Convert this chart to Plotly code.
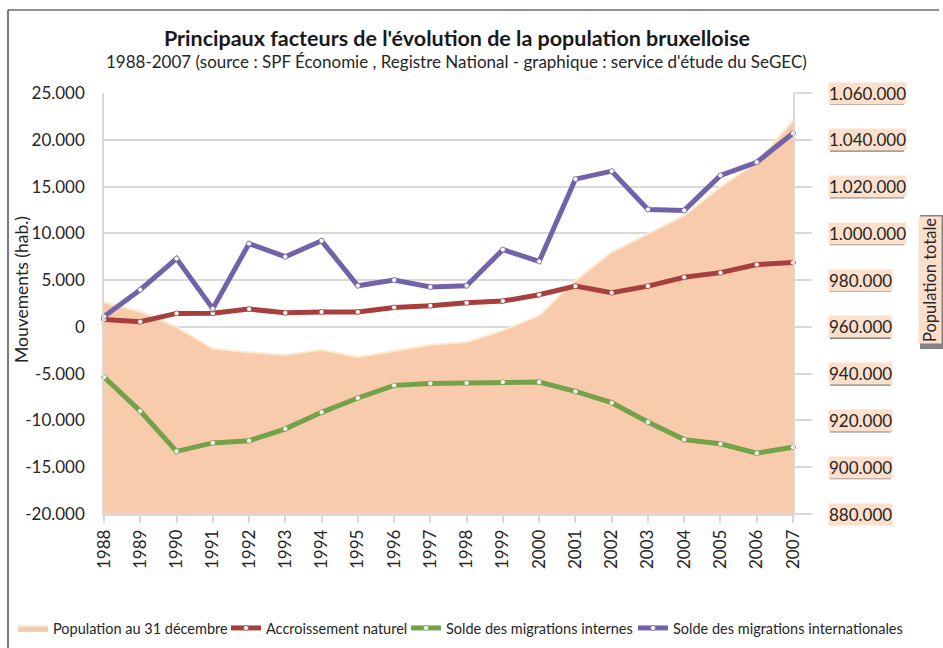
import plotly.graph_objects as go

years = list(range(1988, 2008))
population = [970600, 966600, 960000, 950700, 949200, 948100, 950200, 947100, 949700, 952400,
              953500, 958500, 964900, 979900, 992000, 999800, 1007700, 1019800, 1030500, 1048300]
naturel = [800, 550, 1440, 1470, 1900, 1500, 1600, 1600, 2080, 2260,
           2580, 2760, 3440, 4360, 3650, 4360, 5300, 5800, 6660, 6870]
internes = [-5360, -9000, -13300, -12400, -12160, -10900, -9130, -7600, -6250, -6040,
            -6000, -5900, -5900, -6900, -8100, -10170, -12050, -12500, -13500, -12850]
internationales = [1100, 3970, 7300, 1950, 8900, 7500, 9200, 4400, 5000, 4270,
                   4400, 8260, 7000, 15800, 16650, 12550, 12450, 16200, 17600, 20700]

left_ticks = [-20000, -15000, -10000, -5000, 0, 5000, 10000, 15000, 20000, 25000]
right_ticks = [880000, 900000, 920000, 940000, 960000, 980000, 1000000, 1020000, 1040000, 1060000]

title = "Principaux facteurs de l'évolution de la population bruxelloise"
subtitle = "1988-2007 (source : SPF Économie , Registre National - graphique : service d'étude du SeGEC)"
names = ["Population au 31 décembre", "Accroissement naturel",
         "Solde des migrations internes", "Solde des migrations internationales"]


def fmt(v):
    return f"{v:,}".replace(",", ".")


FONT = "Lato"
TXT = "#262626"
PEACH = "rgb(248,203,172)"
LABELBG = "rgb(252,224,204)"
SHADOW = "rgba(100,100,100,0.8)"
GRID = "rgb(217,217,217)"

# plot-area geometry (pixels)
L, R, T, B = 104, 150, 93, 134
PW, PH = 943 - L - R, 648 - T - B


def px_x(p):
    return (p - L) / PW


def px_y(p):
    return (648 - B - p) / PH


fig = go.Figure()

fig.add_trace(go.Scatter(
    x=years, y=population, name=names[0], yaxis="y", mode="lines",
    fill="tozeroy", fillcolor=PEACH, legend="legend", showlegend=True,
    line=dict(color="rgb(253,236,212)", width=2),
))

series = [(naturel, names[1], "#A7403C", "legend2"),
          (internes, names[2], "#74A24A", "legend3"),
          (internationales, names[3], "#7262AA", "legend4")]
for vals, nm, col, lg in series:
    fig.add_trace(go.Scatter(
        x=years, y=vals, name=nm, yaxis="y2", mode="lines+markers", legend=lg, showlegend=True,
        line=dict(color=col, width=5),
        marker=dict(size=5, color="white", line=dict(color=col, width=0.8)),
        cliponaxis=False,
    ))

annotations = []
shapes = []
LBL_X = px_x(828)
for v in right_ticks:
    s = fmt(v)
    w = sum(9.1 if c.isdigit() else 4.2 for c in s) + 2
    shapes.append(dict(type="rect", xref="paper", xsizemode="pixel", xanchor=LBL_X, x0=2, x1=w + 2,
                       yref="y", ysizemode="pixel", yanchor=v, y0=-12, y1=9,
                       fillcolor=SHADOW, line=dict(width=0), layer="above"))
    annotations.append(dict(xref="paper", yref="y", x=LBL_X, y=v, xanchor="left", yanchor="middle",
                            text=s, showarrow=False,
                            font=dict(family=FONT, size=17, color=TXT),
                            bgcolor=LABELBG, borderpad=0))

# right axis title
shapes.append(dict(type="rect", xref="paper", xsizemode="pixel", xanchor=px_x(930), x0=-10, x1=14,
                   yref="paper", ysizemode="pixel", yanchor=px_y(280), y0=-69, y1=65,
                   fillcolor=SHADOW, line=dict(width=0), layer="above"))
annotations.append(dict(xref="paper", yref="paper", x=px_x(930), y=px_y(280), xanchor="center",
                        yanchor="middle", text="Population totale", textangle=-90, showarrow=False,
                        font=dict(family=FONT, size=16.5, color=TXT), bgcolor=LABELBG, borderpad=1))

# left axis title
annotations.append(dict(xref="paper", yref="paper", x=px_x(21), y=px_y(290), xanchor="center",
                        yanchor="middle", text="Mouvements (hab.)", textangle=-90, showarrow=False,
                        font=dict(family=FONT, size=17.5, color=TXT)))
# subtitle
annotations.append(dict(xref="paper", yref="paper", x=px_x(456), y=px_y(62), xanchor="center",
                        yanchor="middle", text=subtitle, showarrow=False,
                        font=dict(family=FONT, size=17, color=TXT)))

# outer frame (left and top)
shapes += [
    dict(type="line", xref="paper", yref="paper", x0=px_x(8), x1=px_x(8),
         y0=px_y(10), y1=px_y(660), line=dict(color="#222", width=1.2)),
    dict(type="line", xref="paper", yref="paper", x0=px_x(8), x1=px_x(939),
         y0=px_y(10), y1=px_y(10), line=dict(color="#222", width=1.2)),
]

leg_font = dict(family=FONT, size=14.5, color=TXT)
leg_common = dict(orientation="h", xanchor="left", y=px_y(628), yanchor="middle",
                  font=leg_font, itemwidth=30, bgcolor="rgba(0,0,0,0)", borderwidth=0,
                  visible=True)

fig.update_layout(
    width=943, height=648,
    showlegend=True,
    margin=dict(l=L, r=R, t=T, b=B, autoexpand=False),
    paper_bgcolor="white", plot_bgcolor="white",
    font=dict(family=FONT, color=TXT),
    title=dict(text=title, x=457 / 943, xanchor="center", y=1 - 38 / 648, yanchor="middle",
               font=dict(family=FONT, size=21.5, color="#1a1a1a", weight="bold")),
    xaxis=dict(range=[1988, 2007], tickvals=years, ticktext=[str(y) for y in years],
               tickangle=-90, tickfont=dict(family=FONT, size=17, color=TXT),
               showgrid=False, zeroline=False, showline=True, linecolor=GRID, linewidth=1.5,
               ticks="outside", ticklen=7, tickcolor=GRID, tickwidth=1.5),
    yaxis=dict(range=[880000, 1060000], side="right", tickvals=right_ticks, showticklabels=False,
               showgrid=True, gridcolor=GRID, gridwidth=2, zeroline=False,
               showline=True, linecolor=GRID, linewidth=1.5,
               ticks="outside", ticklen=17, tickcolor=GRID, tickwidth=2),
    yaxis2=dict(range=[-20000, 25000], overlaying="y", side="left", tickvals=left_ticks,
                ticktext=[fmt(v) for v in left_ticks], tickfont=dict(family=FONT, size=17, color=TXT),
                showgrid=False, zeroline=False, showline=True, linecolor=GRID, linewidth=1.5,
                ticks="", ticklabelstandoff=14),
    legend=dict(x=px_x(13), **leg_common),
    legend2=dict(x=px_x(226), **leg_common),
    legend3=dict(x=px_x(406), **leg_common),
    legend4=dict(x=px_x(633), **leg_common),
    annotations=annotations,
    shapes=shapes,
)

fig.write_html("out.html", config={"displayModeBar": False},
               post_script="document.body.style.margin='0';")
